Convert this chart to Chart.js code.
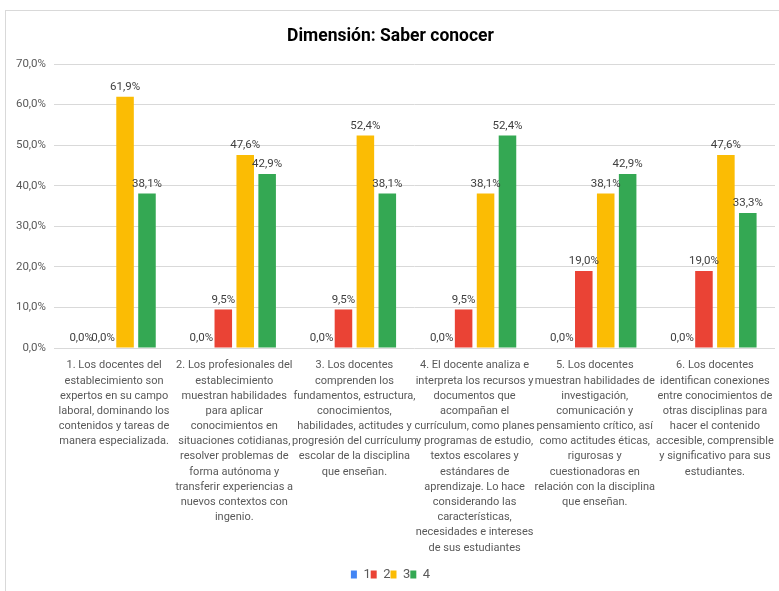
<!DOCTYPE html>
<html>
<head>
<meta charset="utf-8">
<script src="https://cdn.jsdelivr.net/npm/chart.js@4/dist/chart.umd.min.js"></script>
<style>
  body { margin: 0; background: #fff; }
  #frame {
    position: absolute; left: 5px; top: 10px;
    width: 774px; height: 581px;
    border-left: 1px solid #d9d9d9; border-top: 1px solid #d9d9d9;
  }
</style>
</head>
<body>
<div id="frame"><canvas id="chart" width="773" height="580"></canvas></div>
<script>
// categories (already wrapped as in the original)
const categories = [
    ['1. Los docentes del', 'establecimiento son', 'expertos en su campo', 'laboral, dominando los', 'contenidos y tareas de', 'manera especializada.'],
    ['2. Los profesionales del', 'establecimiento', 'muestran habilidades', 'para aplicar', 'conocimientos en', 'situaciones cotidianas,', 'resolver problemas de', 'forma autónoma y', 'transferir experiencias a', 'nuevos contextos con', 'ingenio.'],
    ['3. Los docentes', 'comprenden los', 'fundamentos, estructura,', 'conocimientos,', 'habilidades, actitudes y', 'progresión del currículum', 'escolar de la disciplina', 'que enseñan.'],
    ['4. El docente analiza e', 'interpreta los recursos y', 'documentos que', 'acompañan el', 'currículum, como planes', 'y programas de estudio,', 'textos escolares y', 'estándares de', 'aprendizaje. Lo hace', 'considerando las', 'características,', 'necesidades e intereses', 'de sus estudiantes'],
    ['5. Los docentes', 'muestran habilidades de', 'investigación,', 'comunicación y', 'pensamiento crítico, así', 'como actitudes éticas,', 'rigurosas y', 'cuestionadoras en', 'relación con la disciplina', 'que enseñan.'],
    ['6. Los docentes', 'identifican conexiones', 'entre conocimientos de', 'otras disciplinas para', 'hacer el contenido', 'accesible, comprensible', 'y significativo para sus', 'estudiantes.']
];

const seriesNames = ['1', '2', '3', '4'];
const serie1 = [0.0, 0.0, 0.0, 0.0, 0.0, 0.0];
const serie2 = [0.0, 9.5, 9.5, 9.5, 19.0, 19.0];
const serie3 = [61.9, 47.6, 52.4, 38.1, 38.1, 47.6];
const serie4 = [38.1, 42.9, 38.1, 52.4, 42.9, 33.3];

const colors = ['#4285f4', '#ea4335', '#fbbc04', '#34a853'];

function pct(v) {
    return v.toFixed(1).replace('.', ',') + '%';
}

// value labels above each bar
const barLabels = {
    id: 'barLabels',
    afterDatasetsDraw(chart) {
        const ctx = chart.ctx;
        ctx.save();
        ctx.font = '11.5px Roboto';
        ctx.fillStyle = '#404040';
        ctx.textAlign = 'center';
        ctx.textBaseline = 'bottom';
        chart.data.datasets.forEach((ds, i) => {
            chart.getDatasetMeta(i).data.forEach((bar, j) => {
                ctx.fillText(pct(ds.data[j]), bar.x, bar.y - 4);
            });
        });
        ctx.restore();
    }
};

const ctx = document.getElementById('chart').getContext('2d');
const chart = new Chart(ctx, {
    type: 'bar',
    data: {
        labels: categories,
        datasets: [serie1, serie2, serie3, serie4].map((d, i) => ({
            label: seriesNames[i],
            data: d,
            backgroundColor: colors[i],
            categoryPercentage: 0.73,
            barPercentage: 0.8
        }))
    },
    options: {
        responsive: false,
        animation: false,
        layout: { padding: { left: 0, right: 4, top: 0, bottom: 0 } },
        scales: {
            x: {
                afterFit: s => { s.height = 220; },
                grid: { display: false },
                border: { display: false },
                ticks: {
                    autoSkip: false,
                    maxRotation: 0,
                    padding: 2,
                    color: '#595959',
                    font: { family: 'Roboto', size: 11, lineHeight: 1.38 }
                }
            },
            y: {
                min: 0,
                max: 70,
                afterFit: s => { s.width = 48; },
                grid: { color: '#d9d9d9', drawTicks: false },
                border: { display: false },
                ticks: {
                    stepSize: 10,
                    padding: 8,
                    color: '#595959',
                    font: { family: 'Roboto', size: 11.5 },
                    callback: v => pct(v)
                }
            }
        },
        plugins: {
            title: {
                display: true,
                text: 'Dimensión: Saber conocer',
                color: '#000',
                font: { family: 'Roboto', size: 17.5, weight: 'bold' },
                padding: { top: 15, bottom: 17 }
            },
            legend: {
                position: 'bottom',
                labels: {
                    boxWidth: 6,
                    boxHeight: 8,
                    padding: 0,
                    color: '#595959',
                    font: { family: 'Roboto', size: 13 }
                }
            },
            tooltip: { enabled: false }
        }
    },
    plugins: [barLabels]
});
</script>
</body>
</html>
